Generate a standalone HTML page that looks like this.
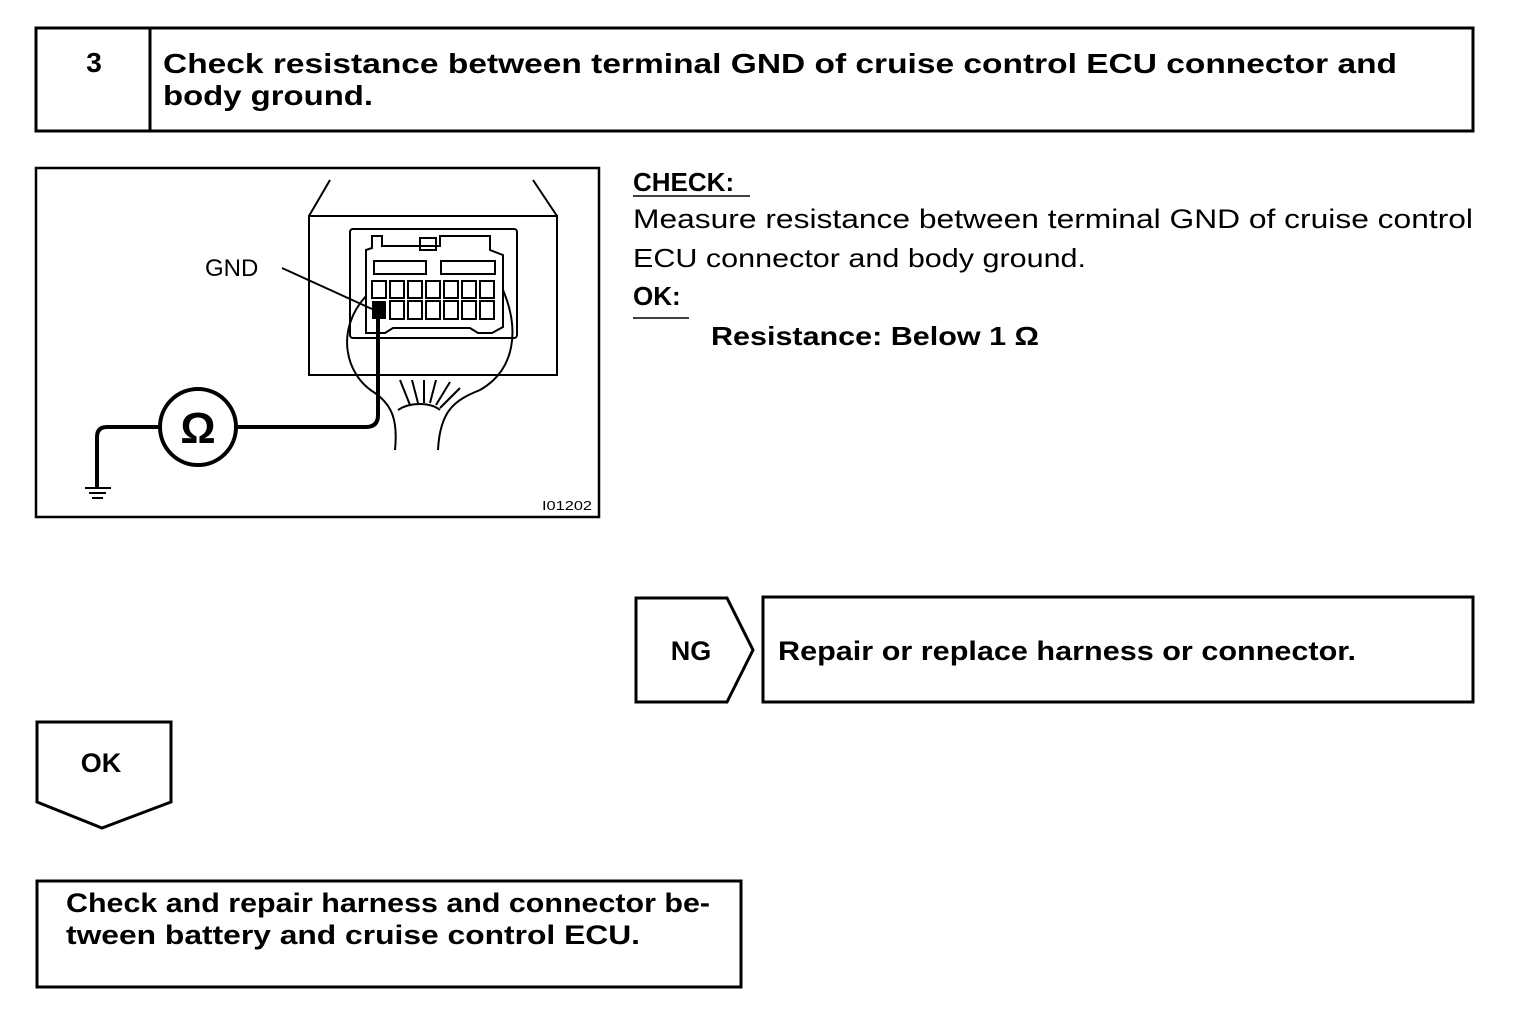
<!DOCTYPE html>
<html><head><meta charset="utf-8"><style>
html,body{margin:0;padding:0;background:#fff;}
svg{display:block;}
text{font-family:"Liberation Sans",Arial,sans-serif;fill:#000;}
.b{font-weight:bold;}
</style></head><body>
<svg width="1520" height="1026" viewBox="0 0 1520 1026" xmlns="http://www.w3.org/2000/svg">
<g fill="none" stroke="#000" stroke-width="3">
<rect x="36" y="28" width="1437" height="103"/>
<line x1="150" y1="28" x2="150" y2="131"/>
<rect x="36" y="168" width="563" height="349" stroke-width="2.5"/>
<polygon points="636,598 727,598 753,650 727,702 636,702"/>
<rect x="763" y="597" width="710" height="105"/>
<polygon points="37,722 171,722 171,802 102,828 37,802"/>
<rect x="37" y="881" width="704" height="106"/>
</g>
<text x="94" y="72" class="b" font-size="28" text-anchor="middle">3</text>
<text x="163" y="73" class="b" font-size="28" textLength="1234" lengthAdjust="spacingAndGlyphs">Check resistance between terminal GND of cruise control ECU connector and</text>
<text x="163" y="105" class="b" font-size="28" textLength="210" lengthAdjust="spacingAndGlyphs">body ground.</text>

<!-- diagram -->
<g fill="none" stroke="#000" stroke-width="2">
<line x1="330" y1="180" x2="309" y2="216"/>
<line x1="533" y1="180" x2="557" y2="216"/>
<rect x="309" y="216" width="248" height="159"/>
<rect x="350" y="229" width="167" height="109" rx="3"/>
<path d="M366,333 L366,250 L372,248 L372,236 L382,236 L382,246 L440,246 L440,236 L490,236 L490,250 L503,255 L503,327 L492,333 L478,333 L470,328 L393,328 L385,333 Z"/>
<rect x="374" y="261" width="52" height="13"/>
<rect x="441" y="261" width="54" height="13"/>
<rect x="420" y="238" width="16" height="12"/>
<path d="M366,296 C335,330 345,375 375,393 C392,405 398,420 395,450"/>
<path d="M503,290 C520,330 515,370 480,390 C455,400 440,410 438,450"/>
<path d="M398,410 C410,402 430,402 440,410"/>
<line x1="400" y1="380" x2="410" y2="405"/>
<line x1="412" y1="380" x2="418" y2="403"/>
<line x1="424" y1="380" x2="424" y2="403"/>
<line x1="436" y1="380" x2="430" y2="403"/>
<line x1="450" y1="382" x2="436" y2="405"/>
<line x1="460" y1="388" x2="440" y2="408"/>
<line x1="282" y1="268" x2="372" y2="309"/>
</g>
<g fill="none" stroke="#000" stroke-width="2">
<rect x="372" y="281" width="14" height="17"/><rect x="390" y="281" width="14" height="17"/><rect x="408" y="281" width="14" height="17"/><rect x="426" y="281" width="14" height="17"/><rect x="444" y="281" width="14" height="17"/><rect x="462" y="281" width="14" height="17"/><rect x="480" y="281" width="14" height="17"/>
<rect x="390" y="301" width="14" height="18"/><rect x="408" y="301" width="14" height="18"/><rect x="426" y="301" width="14" height="18"/><rect x="444" y="301" width="14" height="18"/><rect x="462" y="301" width="14" height="18"/><rect x="480" y="301" width="14" height="18"/>
</g>
<rect x="372" y="301" width="14" height="18" fill="#000"/>
<g fill="none" stroke="#000" stroke-width="4">
<path d="M378,310 L378,415 Q378,427 366,427 L236,427"/>
<path d="M160,427 L107,427 Q97,427 97,437 L97,488"/>
<circle cx="198" cy="427" r="38"/>
</g>
<g stroke="#000" stroke-width="2">
<line x1="85" y1="488" x2="111" y2="488"/>
<line x1="89" y1="493" x2="106" y2="493"/>
<line x1="92" y1="498" x2="103" y2="498"/>
</g>
<text x="198" y="443" class="b" font-size="44" text-anchor="middle">Ω</text>
<text x="205" y="276" font-size="24">GND</text>
<text x="542" y="510" font-size="13" textLength="50" lengthAdjust="spacingAndGlyphs">I01202</text>

<!-- right text -->
<text x="633" y="191" class="b" font-size="26">CHECK:</text>
<line x1="633" y1="196" x2="750" y2="196" stroke="#000" stroke-width="1.5"/>
<text x="633" y="228" font-size="27" textLength="840" lengthAdjust="spacingAndGlyphs">Measure resistance between terminal GND of cruise control</text>
<text x="633" y="267" font-size="26" textLength="453" lengthAdjust="spacingAndGlyphs">ECU connector and body ground.</text>
<text x="633" y="305" class="b" font-size="26">OK:</text>
<line x1="633" y1="318" x2="689" y2="318" stroke="#000" stroke-width="1.5"/>
<text x="711" y="345" class="b" font-size="26" textLength="328" lengthAdjust="spacingAndGlyphs">Resistance: Below 1 Ω</text>

<text x="691" y="660" class="b" font-size="27" text-anchor="middle">NG</text>
<text x="778" y="660" class="b" font-size="27" textLength="578" lengthAdjust="spacingAndGlyphs">Repair or replace harness or connector.</text>
<text x="101" y="772" class="b" font-size="27" text-anchor="middle">OK</text>
<text x="66" y="912" class="b" font-size="27" textLength="644" lengthAdjust="spacingAndGlyphs">Check and repair harness and connector be-</text>
<text x="66" y="944" class="b" font-size="27" textLength="574" lengthAdjust="spacingAndGlyphs">tween battery and cruise control ECU.</text>
</svg>
</body></html>
